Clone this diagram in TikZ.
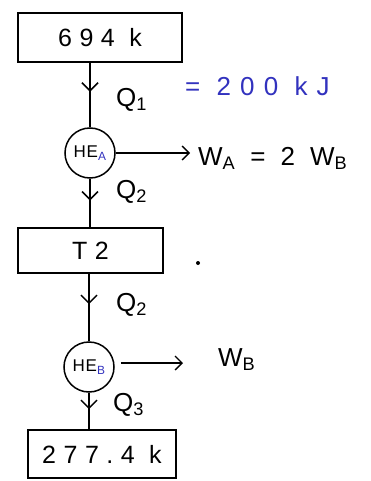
\documentclass[tikz,border=0pt]{standalone}
\usepackage{fontspec}
\setmainfont[LetterSpace=20]{Liberation Sans}
\usetikzlibrary{arrows.meta,decorations.markings}
\definecolor{inkblue}{RGB}{50,50,190}
\tikzset{
  box/.style={draw, line width=1.5pt, inner sep=0pt, font=\fontsize{25}{28}\selectfont\addfontfeatures{LetterSpace=30}},
  engine/.style={draw, circle, line width=1.5pt, minimum size=50pt, inner sep=0pt, font=\fontsize{17}{18}\selectfont\addfontfeatures{LetterSpace=5}},
  flow/.style={line width=1.5pt, postaction={decorate},
    decoration={markings, mark=at position 0.45 with {\arrow{Straight Barb[length=8pt,width=16pt,line width=1.5pt]}}}},
  work/.style={line width=1.3pt, -{Straight Barb[length=7pt,width=14pt]}},
  lbl/.style={font=\fontsize{26}{28}\selectfont, anchor=west, inner sep=0pt}
}
\begin{document}
\begin{tikzpicture}[x=1pt,y=-1pt]
\useasboundingbox (0,0) rectangle (370,481);
\node[box, minimum width=164pt, minimum height=49pt] (hot) at (100,37.5) {694 k};
\node[engine] (heA) at (90,153) {HE\textsubscript{\color{inkblue}A}};
\node[box, minimum width=145pt, minimum height=45pt] (mid) at (90.5,250.5) {T2\hspace{24pt}};
\node[engine] (heB) at (89,367) {HE\textsubscript{\color{inkblue}B}};
\node[box, minimum width=148pt, minimum height=48pt] (cold) at (102,454) {277.4 k};

\draw[flow] (heA.north |- hot.south) -- (heA.north);
\draw[flow] (heA.south) -- (heA.south |- mid.north);
\draw[flow] (heB.north |- mid.south) -- (heB.north);
\draw[flow] (heB.south) -- (heB.south |- cold.north);

\coordinate (wa) at (190,153);
\coordinate (wb) at (183,363);
\draw[work] (heA.east) -- (wa);
\draw[work] ([xshift=6pt,yshift=4pt]heB.east) -- (wb);

\node[lbl] (walbl) at (198,158) {\addfontfeatures{LetterSpace=30}W\textsubscript{A} = 2 W\textsubscript{B}};
\node[lbl] (wblbl) at (218,360) {W\textsubscript{B}};
\node[lbl] (q1) at (116,100) {Q\textsubscript{1}};
\node[lbl, text=inkblue] (q1val) at (185,86) {\addfontfeatures{LetterSpace=35}= 200 kJ};
\node[lbl] (q2a) at (116,192) {Q\textsubscript{2}};
\node[lbl] (q2b) at (116,305) {Q\textsubscript{2}};
\node[lbl] (q3) at (113,405) {Q\textsubscript{3}};
\node[circle, fill, inner sep=0pt, minimum size=4pt] (dot) at (198,263) {};
\end{tikzpicture}
\end{document}
